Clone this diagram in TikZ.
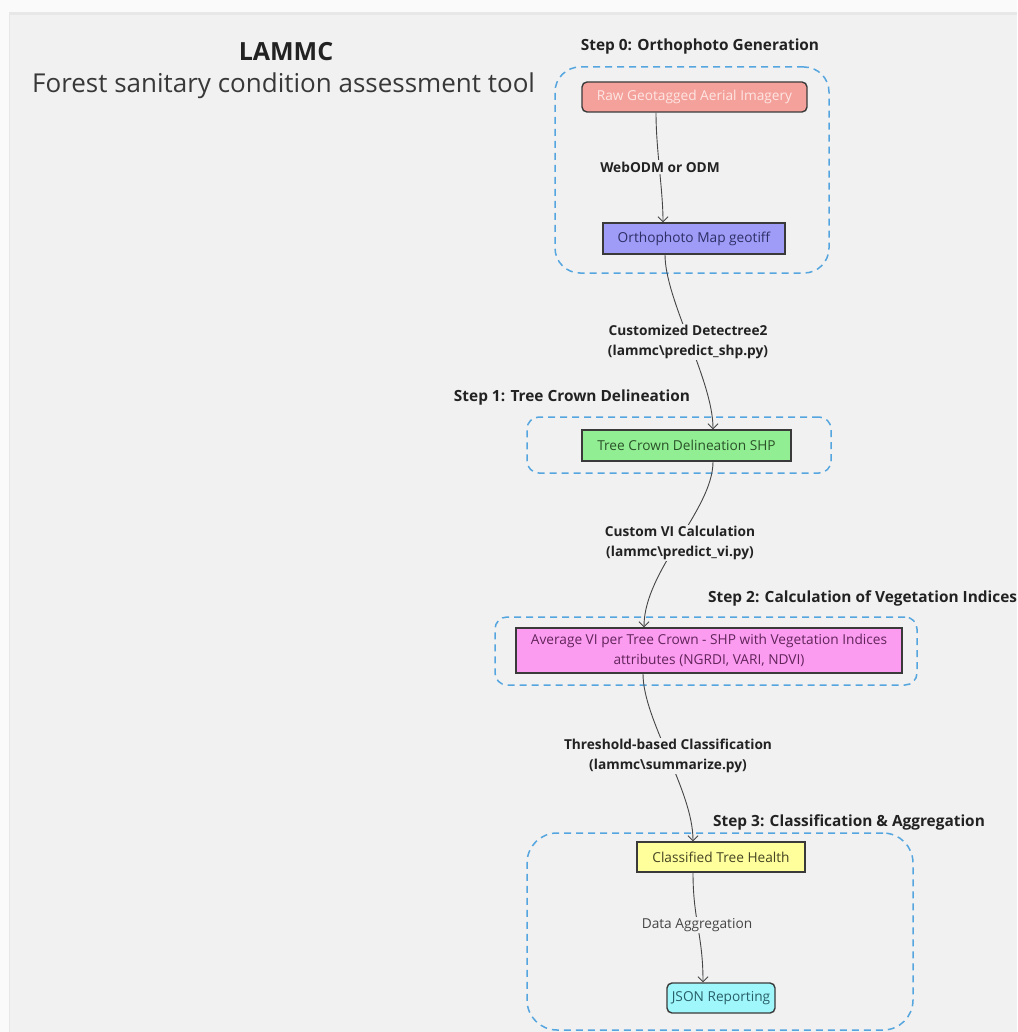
\documentclass[tikz,border=0pt]{standalone}
\usepackage{fontspec}
\setmainfont{Open Sans}
\usetikzlibrary{arrows.meta}

\definecolor{pagebg}{HTML}{FAFAFA}
\definecolor{panelbg}{HTML}{F1F1F1}
\definecolor{panelrim}{HTML}{E7E7E7}
\definecolor{groupline}{HTML}{55A5DF}
\definecolor{edgeline}{HTML}{454545}
\definecolor{boxline}{HTML}{3A3A3A}
\definecolor{rawfill}{HTML}{F5A19B}
\definecolor{rawtext}{HTML}{FDE6E3}
\definecolor{orthofill}{HTML}{9E9CF6}
\definecolor{orthotext}{HTML}{2E2E66}
\definecolor{crownfill}{HTML}{92EE92}
\definecolor{crowntext}{HTML}{2A522A}
\definecolor{vifill}{HTML}{FB9CF1}
\definecolor{vitext}{HTML}{62245A}
\definecolor{healthfill}{HTML}{FFFF9C}
\definecolor{healthtext}{HTML}{444424}
\definecolor{jsonfill}{HTML}{A0F7FB}
\definecolor{jsontext}{HTML}{285F68}
\definecolor{labeltext}{HTML}{222222}

\begin{document}
\begin{tikzpicture}[x=1pt,y=-1pt,
  group/.style={draw=groupline, line width=1.5pt, dash pattern=on 7pt off 5pt},
  procbox/.style={draw=boxline, line width=1.4pt, inner sep=0pt, align=center,
    font=\fontsize{13.7}{19.5}\selectfont},
  flow/.style={draw=edgeline, line width=0.9pt,
    -{Straight Barb[length=5pt,width=10pt,line width=0.9pt]}},
  flowlabel/.style={fill=panelbg, inner sep=1.5pt, align=center, text=labeltext,
    font=\fontsize{13.7}{19.5}\selectfont\bfseries},
  steplabel/.style={text=labeltext, inner sep=0pt,
    font=\fontsize{15.4}{18}\selectfont\bfseries}
]
\useasboundingbox (0,0) rectangle (1017,1032);

% canvas
\fill[pagebg] (0,0) rectangle (1017,1032);
\fill[panelrim] (9,12) rectangle (1017,1032);
\fill[panelbg] (10,15) rectangle (1017,1032);

% heading
\node[text=labeltext, font=\fontsize{25}{30}\selectfont\bfseries] (title) at (286,52) {LAMMC};
\node[text=labeltext!90!white, font=\fontsize{26}{31}\selectfont, anchor=west, inner sep=0pt] (subtitle) at (32,86) {Forest sanitary condition assessment tool};

% stage groups
\node[group, rounded corners=25pt, minimum width=274, minimum height=206] (g0) at (692,170) {};
\node[group, rounded corners=12pt, minimum width=304, minimum height=56] (g1) at (679,445) {};
\node[group, rounded corners=12pt, minimum width=422, minimum height=68] (g2) at (706,651) {};
\node[group, rounded corners=30pt, minimum width=386, minimum height=197] (g3) at (720,931.5) {};

\node[steplabel] (s0) at (700,47) {Step 0: Orthophoto Generation};
\node[steplabel] (s1) at (572,397) {Step 1: Tree Crown Delineation};
\node[steplabel, anchor=west] (s2) at (708,598) {Step 2: Calculation of Vegetation Indices};
\node[steplabel, anchor=west] (s3) at (713,822) {Step 3: Classification \& Aggregation};

% processing boxes
\node[procbox, rounded corners=5pt, fill=rawfill, text=rawtext, minimum width=225, minimum height=30] (raw) at (694.5,97) {Raw Geotagged Aerial Imagery};
\node[procbox, fill=orthofill, text=orthotext, minimum width=182, minimum height=31] (ortho) at (694,238.5) {Orthophoto Map geotiff};
\node[procbox, fill=crownfill, text=crowntext, minimum width=209, minimum height=31] (crown) at (686.5,445.5) {Tree Crown Delineation SHP};
\node[procbox, fill=vifill, text=vitext, minimum width=386, minimum height=45] (vi) at (709,650.5) {Average VI per Tree Crown - SHP with Vegetation Indices\\attributes (NGRDI, VARI, NDVI)};
\node[procbox, fill=healthfill, text=healthtext, minimum width=168, minimum height=30] (health) at (721,857) {Classified Tree Health};
\node[procbox, rounded corners=5pt, fill=jsonfill, text=jsontext, minimum width=108, minimum height=30] (json) at (721,998) {JSON Reporting};

% connectors
\draw[flow] ([xshift=-38.5pt]raw.south) .. controls (656,150) and (663,190) .. ([xshift=-31pt]ortho.north);
\draw[flow] ([xshift=-29pt]ortho.south) .. controls (665,300) and (713,380) .. ([xshift=26.5pt]crown.north);
\draw[flow] ([xshift=26.5pt]crown.south) .. controls (713,510) and (644,570) .. ([xshift=-65pt]vi.north);
\draw[flow] ([xshift=-66pt]vi.south) .. controls (643,720) and (693,790) .. ([xshift=-28pt]health.north);
\draw[flow] ([xshift=-28pt]health.south) .. controls (693,920) and (703,935) .. ([xshift=-18pt]json.north);

% connector labels
\node[flowlabel] (l0) at (660,167) {WebODM or ODM};
\node[flowlabel] (l1) at (688,342) {Customized Detectree2\\(lammc\textbackslash predict\_shp.py)};
\node[flowlabel] (l2) at (680,543) {Custom VI Calculation\\(lammc\textbackslash predict\_vi.py)};
\node[flowlabel] (l3) at (668,756) {Threshold-based Classification\\(lammc\textbackslash summarize.py)};
\node[flowlabel, font=\fontsize{13.7}{19.5}\selectfont, text=edgeline, inner sep=1pt] (l4) at (697,925) {Data Aggregation};
\end{tikzpicture}
\end{document}
